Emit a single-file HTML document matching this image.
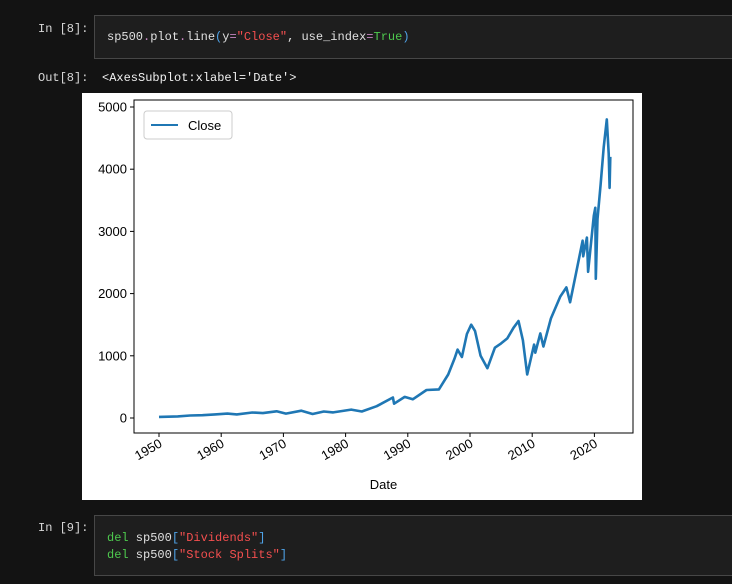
<!DOCTYPE html>
<html><head><meta charset="utf-8"><style>
body{margin:0;width:732px;height:584px;background:#131313;position:relative;overflow:hidden;font-family:"Liberation Mono",monospace;font-size:12px}
.p{position:absolute;color:#d8d8d8}
.cell{position:absolute;background:#1e1e1e;border:1px solid #474747;box-sizing:border-box}
.code{position:absolute;left:12px;white-space:pre;color:#e0e0e0}
</style></head><body>
<div class="p" style="left:38px;top:22px">In [8]:</div>
<div class="cell" style="left:94px;top:15px;width:640px;height:44px">
<div class="code" style="top:14px">sp500<span style="color:#c586c0">.</span>plot<span style="color:#c586c0">.</span>line<span style="color:#4fa3e8">(</span>y<span style="color:#c586c0">=</span><span style="color:#f44f4f">"Close"</span>, use_index<span style="color:#c586c0">=</span><span style="color:#4ec94e">True</span><span style="color:#4fa3e8">)</span></div></div>
<div class="p" style="left:38px;top:71px">Out[8]:</div>
<div class="p" style="left:102px;top:71px;color:#f0f0f0">&lt;AxesSubplot:xlabel='Date'&gt;</div>
<svg id="fig" style="position:absolute;left:82px;top:93px" width="560" height="407" font-family="Liberation Sans, sans-serif" font-size="13"></svg>
<div class="p" style="left:38px;top:521px">In [9]:</div>
<div class="cell" style="left:94px;top:515px;width:640px;height:61px">
<div class="code" style="top:14px;line-height:17px"><span style="color:#4ec94e">del</span> sp500<span style="color:#4fa3e8">[</span><span style="color:#f44f4f">"Dividends"</span><span style="color:#4fa3e8">]</span>
<span style="color:#4ec94e">del</span> sp500<span style="color:#4fa3e8">[</span><span style="color:#f44f4f">"Stock Splits"</span><span style="color:#4fa3e8">]</span></div></div>
<script>
const years=[1950,1953,1955,1957,1959,1961,1962.5,1965,1966.7,1968.9,1970.4,1972.9,1974.7,1976.5,1978,1980.9,1982.6,1985,1987.6,1987.8,1989.5,1990.8,1993,1995,1996.5,1997.5,1998,1998.7,1999.5,2000.2,2000.8,2001.7,2002.8,2004,2005,2006,2007,2007.8,2008.5,2009.2,2010.3,2010.5,2011.3,2011.8,2013,2014.5,2015.5,2016.1,2017,2018.1,2018.2,2018.8,2018.98,2019.9,2020.15,2020.22,2020.5,2021,2021.5,2022,2022.3,2022.45,2022.55];
const closes=[17,25,40,45,58,70,58,88,78,108,70,118,65,105,90,135,105,190,330,230,340,300,450,460,700,950,1100,980,1350,1500,1400,1000,800,1130,1200,1280,1450,1560,1250,700,1180,1050,1360,1150,1600,1950,2100,1860,2300,2850,2600,2900,2350,3250,3380,2240,3200,3750,4350,4800,4250,3700,4200];
const xTicks=[1950,1960,1970,1980,1990,2000,2010,2020];
const yTicks=[0,1000,2000,3000,4000,5000];
const NS='http://www.w3.org/2000/svg',svg=document.getElementById('fig');
const L=52,R=551,T=7,B=340;
const xs=y=>159-82+(y-1950)*6.22, ys=v=>418-93-v*0.0622;
function mk(t,a,txt){const e=document.createElementNS(NS,t);for(const k in a)e.setAttribute(k,a[k]);if(txt!=null)e.textContent=txt;svg.appendChild(e);return e;}
let e=mk('rect',{x:0,y:0,width:560,height:407,fill:'#fff'});

let d=years.map((y,i)=>(i?'L':'M')+xs(y).toFixed(1)+','+ys(closes[i]).toFixed(1)).join('');
e=mk('path',{d:d,fill:'none',stroke:'#1f77b4','stroke-width':2.6,'stroke-linejoin':'round'});

e=mk('rect',{x:L,y:T,width:R-L,height:B-T,fill:'none',stroke:'#000','stroke-width':1});

yTicks.forEach(v=>{const y=ys(v);
e=mk('line',{x1:L-4,x2:L,y1:y,y2:y,stroke:'#000'});
e=mk('text',{x:L-7,y:y+4.5,'text-anchor':'end'},v);});
xTicks.forEach(v=>{const x=xs(v);
e=mk('line',{x1:x,x2:x,y1:B,y2:B+4,stroke:'#000'});
e=mk('text',{x:x+4,y:B+13,'text-anchor':'end',transform:`rotate(-30 ${x+4} ${B+13})`},v);});
e=mk('text',{x:(L+R)/2,y:396,'text-anchor':'middle'},'Date');
e=mk('rect',{x:62,y:18,width:88,height:28,rx:3,fill:'#fff',stroke:'#ccc'});
e=mk('line',{x1:69,x2:96,y1:32,y2:32,stroke:'#1f77b4','stroke-width':2});
e=mk('text',{x:106,y:37},'Close');
</script>
</body></html>
